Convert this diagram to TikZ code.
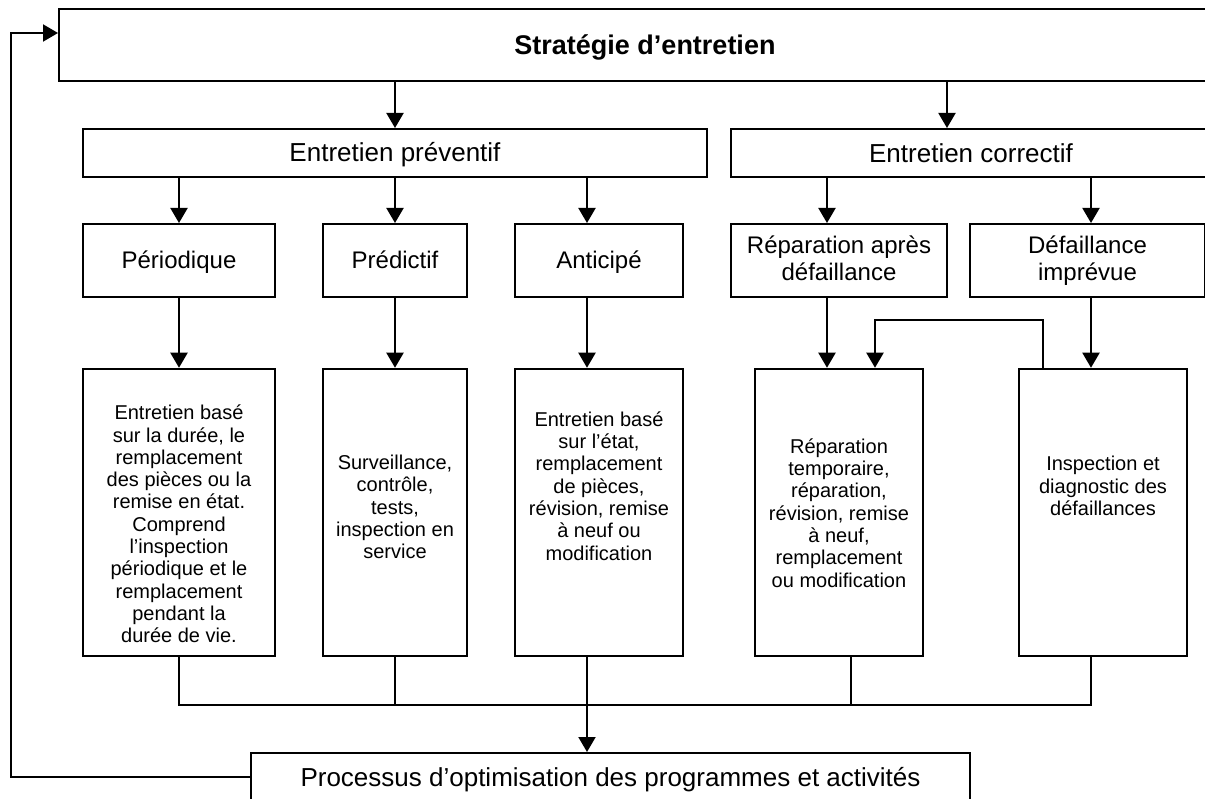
\documentclass[tikz,border=0pt]{standalone}
\usepackage{fontspec}
\setmainfont{Liberation Sans}
\usetikzlibrary{arrows.meta}
\newcommand{\titrefont}{\fontsize{27}{32}\selectfont\bfseries}
\newcommand{\moyenfont}{\fontsize{26}{30}\selectfont}
\newcommand{\niveaufont}{\fontsize{24}{27}\selectfont}
\newcommand{\petitfont}{\fontsize{20}{22.3}\selectfont}
\newcommand{\appui}{\rule[-0.2em]{0pt}{1.1em}}
\tikzset{
  boite/.style={draw, line width=2pt, inner sep=0pt, align=center,
    execute at begin node=\appui, execute at end node=\appui},
  texte/.style={align=center, inner sep=0pt, font=\petitfont},
  fleche/.style={-{Triangle[length=15pt,width=17pt]}, line width=2pt},
  lien/.style={line width=2pt},
}

\begin{document}
\begin{tikzpicture}[x=1pt,y=-1pt]
  \path[use as bounding box, clip] (0,0) rectangle (1205,799);

  % colonnes des fleches
  \coordinate (kA) at (179,0);
  \coordinate (kB) at (395,0);
  \coordinate (kC) at (587,0);
  \coordinate (kD) at (827,0);
  \coordinate (kE) at (1091,0);
  \coordinate (kF) at (851,0);
  \coordinate (kG) at (947,0);
  \coordinate (kH) at (875,0);
  \coordinate (kI) at (1043,0);
  \coordinate (bas) at (0,705);
  \coordinate (retour) at (11,33);

  % Strategie d'entretien
  \node[boite, minimum width=1172pt, minimum height=72pt, font=\titrefont] (strat) at (645,45) {Stratégie d’entretien};

  % Entretien preventif et correctif
  \node[boite, minimum width=624pt, minimum height=48pt, font=\moyenfont] (prev) at (395,153) {Entretien préventif};
  \node[boite, minimum width=480pt, minimum height=48pt, font=\moyenfont] (corr) at (971,153) {Entretien correctif};

  % Types d'entretien
  \node[boite, minimum width=192pt, minimum height=73pt, font=\niveaufont] (perio) at (179,260.5) {Périodique};
  \node[boite, minimum width=144pt, minimum height=73pt, font=\niveaufont] (predi) at (395,260.5) {Prédictif};
  \node[boite, minimum width=168pt, minimum height=73pt, font=\niveaufont] (antic) at (599,260.5) {Anticipé};
  \node[boite, minimum width=216pt, minimum height=73pt, font=\niveaufont] (repar) at (839,260.5) {Réparation après\\défaillance};
  \node[boite, minimum width=235pt, minimum height=73pt, font=\niveaufont] (defai) at (1087.5,260.5) {Défaillance\\imprévue};

  % Cadres des activites
  \node[boite, minimum width=192pt, minimum height=287.5pt] (cadreA) at (179,512.5) {};
  \node[boite, minimum width=144pt, minimum height=287.5pt] (cadreB) at (395,512.5) {};
  \node[boite, minimum width=168pt, minimum height=287.5pt] (cadreC) at (599,512.5) {};
  \node[boite, minimum width=168pt, minimum height=287.5pt] (cadreD) at (839,512.5) {};
  \node[boite, minimum width=168pt, minimum height=287.5pt] (cadreE) at (1103,512.5) {};
  \node[texte] (txtA) at (179,524) {Entretien basé\\sur la durée, le\\remplacement\\des pièces ou la\\remise en état.\\Comprend\\l’inspection\\périodique et le\\remplacement\\pendant la\\durée de vie.};
  \node[texte] (txtB) at (395,507) {Surveillance,\\contrôle,\\tests,\\inspection en\\service};
  \node[texte] (txtC) at (599,486) {Entretien basé\\sur l’état,\\remplacement\\de pièces,\\révision, remise\\à neuf ou\\modification};
  \node[texte] (txtD) at (839,513) {Réparation\\temporaire,\\réparation,\\révision, remise\\à neuf,\\remplacement\\ou modification};
  \node[texte] (txtE) at (1103,486) {Inspection et\\diagnostic des\\défaillances};

  % Processus d'optimisation
  \node[boite, minimum width=719pt, minimum height=48pt, font=\moyenfont] (optim) at (610.5,777) {Processus d’optimisation des programmes et activités};

  % Fleches
  \draw[fleche] (strat.south -| kB) -- (prev.north -| kB);
  \draw[fleche] (strat.south -| kG) -- (corr.north -| kG);
  \foreach \n/\k in {perio/kA, predi/kB, antic/kC} {
    \draw[fleche] (prev.south -| \k) -- (\n.north -| \k);
  }
  \foreach \n/\k in {repar/kD, defai/kE} {
    \draw[fleche] (corr.south -| \k) -- (\n.north -| \k);
  }
  \foreach \n/\c/\k in {perio/cadreA/kA, predi/cadreB/kB, antic/cadreC/kC, repar/cadreD/kD, defai/cadreE/kE} {
    \draw[fleche] (\n.south -| \k) -- (\c.north -| \k);
  }
  \draw[fleche] (cadreE.north -| kI) -- ++(0,-48) -| (cadreD.north -| kH);

  % Regroupement vers l'optimisation
  \draw[lien] (cadreA.south -| kA) -- (bas -| kA) -- (bas -| kE) -- (cadreE.south -| kE);
  \draw[lien] (cadreB.south -| kB) -- (bas -| kB);
  \draw[lien] (cadreD.south -| kF) -- (bas -| kF);
  \draw[fleche] (cadreC.south -| kC) -- (optim.north -| kC);

  % Retour vers la strategie
  \draw[fleche] (optim.west) -| (retour) -- (strat.west |- retour);
\end{tikzpicture}
\end{document}
